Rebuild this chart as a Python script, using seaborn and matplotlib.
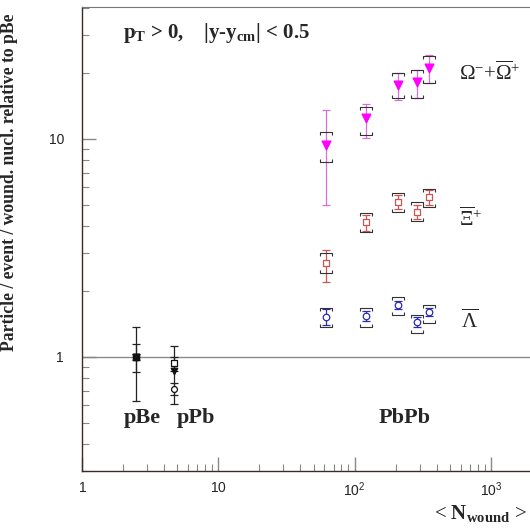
import numpy as np
import pandas as pd
import matplotlib
matplotlib.use("Agg")
import matplotlib.pyplot as plt
import seaborn as sns
from matplotlib.path import Path
from matplotlib.ticker import FixedLocator, FixedFormatter, NullFormatter

# --------------------------------------------------
# Data
# --------------------------------------------------
npartPbPb = [62, 121, 208, 288, 349]

omega = [9.4, 12.5, 17.7, 18.3, 21.2]
omegaStatLo = [5.0, 10.1, 15.1, 15.4, 18.1]
omegaStatHi = [13.6, 14.5, 20.1, 20.7, 24.3]
omegaSysLo = [7.8, 10.4, 15.4, 15.4, 18.1]
omegaSysHi = [10.8, 14.0, 20.1, 20.7, 24.0]

xi = [2.70, 4.16, 5.14, 4.63, 5.42]
xiStatLo = [2.21, 3.80, 4.75, 4.30, 5.00]
xiStatHi = [3.10, 4.50, 5.55, 5.00, 5.85]
xiSysLo = [2.43, 3.74, 4.63, 4.21, 4.88]
xiSysHi = [3.00, 4.58, 5.65, 5.14, 5.90]

lam = [1.52, 1.54, 1.73, 1.45, 1.61]
lamStatLo = [1.40, 1.46, 1.66, 1.38, 1.54]
lamStatHi = [1.66, 1.62, 1.80, 1.52, 1.68]
lamSysLo = [1.37, 1.37, 1.56, 1.29, 1.43]
lamSysHi = [1.68, 1.68, 1.88, 1.56, 1.73]

# reference systems pBe and pPb (black markers)
npartRef = [2.5, 4.75]
omegaRef = [1.0, 0.86]
omegaRefLo = [0.63, 0.61]
omegaRefHi = [1.37, 1.12]
xiRef = [1.0, 0.94]
xiRefLo = [0.85, 0.86]
xiRefHi = [1.15, 1.0]
lamRef = [1.0, 0.71]
lamRefLo = [0.97, 0.67]
lamRefHi = [1.03, 0.76]

xTickVals = [1, 10, 100, 1000]
xTickLabels = [r"$\mathsf{1}$", r"$\mathsf{10}$", r"$\mathsf{10^2}$", r"$\mathsf{10^3}$"]
yTickVals = [1, 10]
yTickLabels = ["1", "10"]

# --------------------------------------------------
# Style
# --------------------------------------------------
sns.set_style("white")
plt.rcParams["font.family"] = ["Liberation Serif", "DejaVu Serif"]
plt.rcParams["mathtext.fontset"] = "custom"
plt.rcParams["mathtext.rm"] = "Liberation Serif"
plt.rcParams["mathtext.it"] = "Liberation Serif"
plt.rcParams["mathtext.bf"] = "Liberation Serif:bold"
plt.rcParams["mathtext.sf"] = "Liberation Sans"

fig = plt.figure(figsize=(5.3, 5.28), dpi=100)
ax = fig.add_axes([82 / 530, 57 / 528, 455.6 / 530, 464 / 528])
ax.set_xscale("log")
ax.set_yscale("log")
ax.set_xlim(1, 2200)
ax.set_ylim(0.30, 40.3)

# bracket markers for systematic errors
bracketTop = Path([(-6, -3), (-6, 0), (6, 0), (6, -3)])
bracketBot = Path([(-6, 3), (-6, 0), (6, 0), (6, 3)])


def drawSeries(x, y, lo, hi, sysLo, sysHi, color, ecolor, marker, size, filled):
    y = np.array(y)
    yerr = [y - np.array(lo), np.array(hi) - y]
    ax.errorbar(x, y, yerr=yerr, fmt="none", ecolor=ecolor, elinewidth=0.9,
                capsize=3.2, capthick=0.9, zorder=2)
    if sysLo is not None:
        ax.plot(x, sysHi, linestyle="none", marker=bracketTop, markersize=8.6,
                markerfacecolor="none", markeredgecolor="#333333", markeredgewidth=0.8, zorder=3)
        ax.plot(x, sysLo, linestyle="none", marker=bracketBot, markersize=8.6,
                markerfacecolor="none", markeredgecolor="#333333", markeredgewidth=0.8, zorder=3)
    df = pd.DataFrame({"x": x, "y": y})
    sns.scatterplot(data=df, x="x", y="y", ax=ax, marker=marker, s=size,
                    facecolor=color if filled else "white",
                    edgecolor=color, linewidth=0.9, zorder=4, legend=False)


# reference line at 1
ax.axhline(1.0, color="#8a8a8a", lw=1.0, zorder=1)

drawSeries(npartPbPb, omega, omegaStatLo, omegaStatHi, omegaSysLo, omegaSysHi,
           "#ff00ff", "#d870d8", "v", 40, True)
drawSeries(npartPbPb, xi, xiStatLo, xiStatHi, xiSysLo, xiSysHi,
           "#cc5555", "#cc5555", "s", 16, False)
drawSeries(npartPbPb, lam, lamStatLo, lamStatHi, lamSysLo, lamSysHi,
           "#2b2bb0", "#2b2bb0", "o", 22, False)

drawSeries(npartRef, omegaRef, omegaRefLo, omegaRefHi, None, None,
           "#111111", "#222222", "v", 22, True)
drawSeries(npartRef, xiRef, xiRefLo, xiRefHi, None, None,
           "#111111", "#222222", "s", 22, False)
drawSeries(npartRef, lamRef, lamRefLo, lamRefHi, None, None,
           "#111111", "#222222", "o", 18, False)
# pBe markers are drawn filled in the reference
ax.scatter([npartRef[0]], [1.0], marker="s", s=22, color="#111111", zorder=5)

# --------------------------------------------------
# Axes cosmetics
# --------------------------------------------------
ax.set_xlabel("")
for side in ["left", "bottom"]:
    ax.spines[side].set_color("#3a2a2a")
    ax.spines[side].set_linewidth(1.0)
ax.spines["top"].set_color("#777777")
ax.spines["right"].set_visible(False)

ax.xaxis.set_major_locator(FixedLocator(xTickVals))
ax.xaxis.set_major_formatter(FixedFormatter(xTickLabels))
ax.yaxis.set_major_locator(FixedLocator(yTickVals))
ax.yaxis.set_major_formatter(FixedFormatter(yTickLabels))
ax.xaxis.set_minor_formatter(NullFormatter())
ax.yaxis.set_minor_formatter(NullFormatter())
ax.tick_params(which="both", direction="in", color="#888888",
               bottom=True, left=True, top=False, right=False)
ax.tick_params(which="major", length=10, width=1.0)
ax.tick_params(which="minor", length=5, width=0.8)
ax.tick_params(axis="x", which="major", pad=7)
ax.tick_params(axis="y", which="major", pad=13)
for lab in ax.get_xticklabels() + ax.get_yticklabels():
    lab.set_fontfamily("Liberation Sans")
    lab.set_fontsize(10)
    lab.set_color("#222222")

# --------------------------------------------------
# Texts
# --------------------------------------------------
ax.set_ylabel("Particle / event / wound. nucl. relative to pBe",
              fontsize=12.7, fontweight="bold", family="Liberation Serif")
ax.yaxis.set_label_coords(-0.14, 0.622)

fig.text(123 / 530, 1 - 33 / 528,
         r"$\mathbf{p_T}$ > 0,    |y-$\mathbf{y_{cm}}$| < 0.5",
         fontsize=15, fontweight="bold", va="center", ha="left")
fig.text(459 / 530, 1 - 73 / 528, r"$\Omega^{-}$+$\overline{\Omega}^{+}$",
         fontsize=15, va="center", ha="left")
fig.text(459 / 530, 1 - 219 / 528, r"$\overline{\Xi}^{+}$",
         fontsize=15, va="center", ha="left")
fig.text(461 / 530, 1 - 321 / 528, r"$\overline{\Lambda}$",
         fontsize=15, va="center", ha="left")
for label, xc in [("pBe", 142), ("pPb", 196), ("PbPb", 405)]:
    fig.text(xc / 530, 1 - 418 / 528, label, fontsize=16, fontweight="bold",
             ha="center", va="center")
fig.text(527 / 530, 1 - 513 / 528, r"< $\mathbf{N_{wound}}$ >",
         fontsize=15, ha="right", va="center")

fig.savefig("out.png", dpi=100)
